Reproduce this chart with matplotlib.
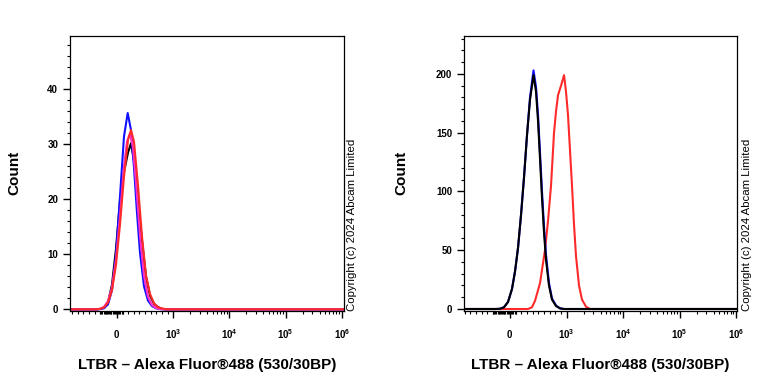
import numpy as np
import matplotlib
matplotlib.use("Agg")
import matplotlib.pyplot as plt
from matplotlib.ticker import FixedLocator, NullFormatter

plt.rcParams['font.family'] = 'Liberation Sans'
plt.rcParams['mathtext.fontset'] = 'custom'
plt.rcParams['mathtext.rm'] = 'Liberation Sans'
plt.rcParams['mathtext.bf'] = 'Liberation Sans:bold'

# --- histogram data (fluorescence value, count) ---
# left panel
left_blue_x = [-836, -373, -302, -231, -160, -89, -18, 53, 124, 190, 249, 302, 356, 409, 480, 551, 622, 693, 764, 836, 1.09e6]
left_blue_y = [0, 0, 0.05, 0.2, 0.9, 3.5, 9.9, 20.5, 31.4, 35.7, 32.6, 25.8, 17.5, 10.3, 4.2, 1.6, 0.6, 0.2, 0.05, 0, 0]

left_red_x = [-836, -373, -302, -231, -160, -89, -18, 53, 124, 196, 249, 302, 373, 444, 516, 587, 658, 729, 800, 889, 960, 1.09e6]
left_red_y = [0, 0, 0.09, 0.36, 1.24, 3.5, 8.1, 15.4, 24.1, 30.8, 32.6, 30.5, 22.6, 13.3, 6.1, 2.8, 1.1, 0.4, 0.15, 0.02, 0, 0]

left_black_x = [-836, -373, -302, -231, -160, -89, -18, 53, 124, 196, 249, 302, 373, 444, 516, 587, 658, 729, 800, 871, 1.09e6]
left_black_y = [0, 0, 0.05, 0.3, 1.3, 4.5, 11, 19.6, 25, 28.5, 30.2, 27, 20, 12.5, 6, 2.5, 1.0, 0.4, 0.1, 0, 0]

left_pink_x = [-836, -373, -302, -231, -160, -89, -18, 53, 124, 178, 231, 284, 338, 409, 480, 551, 622, 693, 764, 853, 1.09e6]
left_pink_y = [0, 0, 0.1, 0.45, 1.5, 4, 9, 17, 26, 30.5, 32, 29.5, 23, 13.5, 6, 2.3, 0.8, 0.25, 0.05, 0, 0]

# right panel
right_x = [-814, -248, -177, -106, -35, 35, 89, 142, 195, 248, 301, 354, 416, 460, 496, 531, 566, 602, 637, 690, 743, 814, 885, 956, 1.04e6]
right_blue_y = [0, 0, 0.2, 1.5, 6, 17, 32, 52, 80, 112, 148, 180, 203, 189, 165, 133, 100, 70, 46, 22, 9, 3, 0.6, 0, 0]
right_black_y = [0, 0, 0.2, 1.5, 6, 17, 32, 52, 80, 112, 148, 178, 199, 185, 160, 128, 95, 65, 42, 20, 8, 2.5, 0.5, 0, 0]

right_red_x = [-814, 248, 319, 389, 443, 531, 619, 673, 726, 779, 814, 850, 903, 956, 991, 1063, 1153, 1251, 1357, 1473, 1664, 1881, 2214, 2605, 1.04e6]
right_red_y = [0, 0, 0, 1.5, 7, 22, 50, 75, 105, 150, 168, 182, 190, 199, 185, 165, 135, 105, 72, 45, 20, 8, 2, 0, 0]

x_major = [0, 1e3, 1e4, 1e5, 1e6]
x_major_labels = ['$\\mathbf{0}$', '$\\mathbf{10^{3}}$', '$\\mathbf{10^{4}}$', '$\\mathbf{10^{5}}$', '$\\mathbf{10^{6}}$']

xlabel = "LTBR \u2013 Alexa Fluor\u00ae488 (530/30BP)"
ylabel = "Count"
copyright_text = "Copyright (c) 2024 Abcam Limited"

BLUE = '#1010ff'
RED = '#ff2a2a'
PINK = '#ff30c8'
BLACK = '#000000'


def style_axis(ax, xmin, xmax, ymax, ybottom, ystep, yminor):
    # linscale 0.9 -> linear part 0..1000 takes one decade
    ax.set_xscale('symlog', linthresh=1000, linscale=0.9)
    ax.set_xlim(xmin, xmax)
    ax.set_ylim(ybottom, ymax)
    # x ticks: linear part + log decades
    minor = list(range(-800, 1000, 100)) + list(range(-300, 101, 20))
    for k in [3, 4, 5]:
        minor += [m * 10 ** k for m in range(2, 10)]
    ax.xaxis.set_major_locator(FixedLocator(x_major))
    ax.set_xticklabels(x_major_labels)
    ax.xaxis.set_minor_locator(FixedLocator(minor))
    ax.xaxis.set_minor_formatter(NullFormatter())
    ax.yaxis.set_major_locator(FixedLocator(np.arange(0, ymax, ystep)))
    ax.yaxis.set_minor_locator(FixedLocator(np.arange(0, ymax, yminor)))
    ax.tick_params(axis='both', which='major', direction='out', length=5, width=1, labelsize=7)
    ax.tick_params(axis='both', which='minor', direction='out', length=2.5, width=0.8)
    ax.tick_params(axis='x', which='major', pad=7)
    for lab in ax.get_yticklabels():
        lab.set_fontweight('bold')
    for sp in ax.spines.values():
        sp.set_linewidth(0.9)
    ax.set_xlabel(xlabel, fontsize=11, fontweight='bold', labelpad=12)


fig = plt.figure(figsize=(7.68, 3.84), dpi=100)
ax1 = fig.add_axes([70 / 768, 1 - 311 / 384, 274 / 768, 275 / 384])
ax2 = fig.add_axes([464 / 768, 1 - 311 / 384, 273 / 768, 275 / 384])

lw = 1.5
ax1.plot(left_black_x, left_black_y, color=BLACK, lw=lw)
ax1.plot(left_blue_x, left_blue_y, color=BLUE, lw=lw)
ax1.plot(left_pink_x, left_pink_y, color=PINK, lw=lw)
ax1.plot(left_red_x, left_red_y, color=RED, lw=lw)
style_axis(ax1, -836, 1.09e6, 49.7, -0.3, 10, 2)

ax2.plot(right_red_x, right_red_y, color=RED, lw=lw)
ax2.plot(right_x, right_blue_y, color=BLUE, lw=lw)
ax2.plot(right_x, right_black_y, color=BLACK, lw=lw)
style_axis(ax2, -814, 1.04e6, 232.3, -1.7, 50, 10)

# "Count" labels placed by hand, the reference has them far out
ymid = 1 - 173 / 384
fig.text(14 / 768, ymid, ylabel, rotation=90, ha='center', va='center', fontsize=11, fontweight='bold')
fig.text(401 / 768, ymid, ylabel, rotation=90, ha='center', va='center', fontsize=11, fontweight='bold')

# copyright notes next to each panel
fig.text(352 / 768, 1 - 311 / 384, copyright_text, rotation=90, ha='center', va='bottom', fontsize=8.2)
fig.text(747 / 768, 1 - 311 / 384, copyright_text, rotation=90, ha='center', va='bottom', fontsize=8.2)

fig.savefig("out.png", dpi=100)
